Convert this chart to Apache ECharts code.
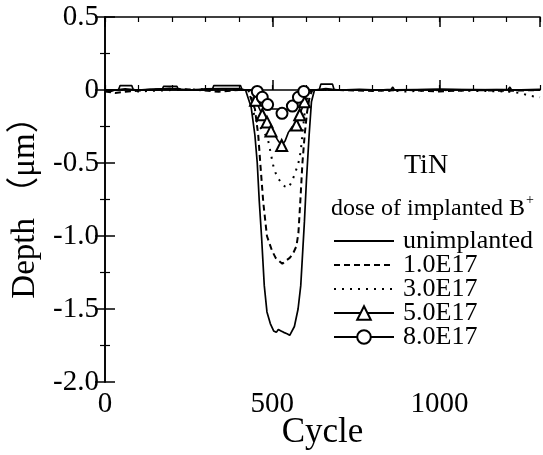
<!DOCTYPE html>
<html><head><meta charset="utf-8">
<script src="https://cdn.jsdelivr.net/npm/echarts@6/dist/echarts.min.js"></script>
<style>html,body{margin:0;padding:0;background:#fff}#c{width:543px;height:455px}</style>
</head><body><div id="c"></div>
<script>
// ---- data ----
const seriesNames = ['unimplanted', '1.0E17', '3.0E17', '5.0E17', '8.0E17'];
const xLabelValues = [0, 500, 1000];
const yLabelValues = [0.5, 0, -0.5, -1.0, -1.5, -2.0];

// [cycle, depth(um)]
const unimplanted = [[0,0.0],[15,-0.012],[30,0.0],[60,0.008],[100,0.0],[140,0.006],[200,0.01],[260,0.0],[300,0.008],[350,0.01],[400,0.01],[420,0.0],[424,-0.01],[437,-0.12],[448,-0.31],[455,-0.5],[461,-0.76],[468,-1.01],[476,-1.34],[484,-1.52],[494,-1.6],[504,-1.65],[512,-1.66],[518,-1.64],[526,-1.65],[534,-1.66],[544,-1.67],[552,-1.68],[556,-1.69],[566,-1.62],[577,-1.5],[585,-1.34],[591,-1.1],[596,-0.9],[602,-0.62],[610,-0.31],[617,-0.08],[626,0.0],[660,0.01],[700,0.0],[760,0.005],[820,0.0],[855,0.004],[860,0.02],[865,0.0],[900,0.0],[1000,0.005],[1100,0.0],[1205,0.004],[1210,0.02],[1215,0.0],[1300,0.005]];
const dose10 = [[0,-0.01],[30,-0.02],[60,-0.012],[120,0.0],[200,0.01],[280,0.0],[340,-0.012],[400,0.0],[428,0.0],[435,-0.05],[448,-0.13],[458,-0.31],[465,-0.53],[473,-0.77],[484,-1.0],[499,-1.1],[510,-1.15],[520,-1.17],[530,-1.19],[540,-1.17],[552,-1.15],[562,-1.12],[572,-1.07],[578,-0.98],[584,-0.75],[590,-0.5],[597,-0.3],[604,-0.15],[612,-0.04],[620,0.0],[700,0.0],[800,-0.006],[900,0.0],[1000,-0.01],[1100,0.0],[1200,-0.006],[1300,0.0]];
const dose30 = [[0,0.0],[50,0.0],[100,-0.01],[200,0.0],[300,0.005],[400,0.0],[432,0.0],[438,-0.05],[443,-0.15],[452,-0.21],[465,-0.26],[478,-0.3],[488,-0.35],[495,-0.43],[503,-0.52],[513,-0.59],[525,-0.63],[537,-0.66],[548,-0.67],[558,-0.63],[568,-0.57],[578,-0.5],[585,-0.42],[590,-0.3],[596,-0.17],[602,-0.08],[608,-0.03],[615,0.0],[700,0.0],[800,0.0],[900,-0.01],[1000,0.0],[1100,-0.006],[1200,-0.01],[1240,-0.02],[1270,-0.04],[1300,-0.05]];
// third value: 1 = marker drawn at this point
const dose50 = [[0,0,0],[170,0,0],[175,0.025,0],[215,0.025,0],[220,0,0],[320,0,0],[325,0.03,0],[405,0.03,0],[410,0,0],[438,0,0],[450,-0.07,1],[470,-0.17,1],[484,-0.22,1],[496,-0.28,1],[505,-0.3,0],[518,-0.35,0],[528,-0.38,1],[538,-0.35,0],[548,-0.29,0],[560,-0.25,0],[572,-0.24,1],[582,-0.17,1],[596,-0.08,1],[606,0,0],[800,0,0],[1000,0.005,0],[1300,0,0]];
const dose80 = [[0,0,0],[40,0,0],[45,0.03,0],[80,0.03,0],[85,0,0],[300,0,0],[445,0,0],[455,-0.01,1],[470,-0.05,1],[486,-0.1,1],[500,-0.13,0],[515,-0.13,0],[529,-0.16,1],[545,-0.13,0],[560,-0.11,1],[578,-0.05,1],[594,-0.01,1],[605,0,0],[640,0,0],[645,0.04,0],[680,0.04,0],[685,0,0],[900,0,0],[1300,0,0]];

// ---- chart ----
const FONT = "'Liberation Serif', 'Times New Roman', serif";
function markerData(arr) {
  return arr.map(p => ({ value: [p[0], p[1]], symbol: p[2] ? undefined : 'none' }));
}
const chart = echarts.init(document.getElementById('c'), null, { renderer: 'canvas' });
const axisLine = { show: true, lineStyle: { color: '#000', width: 1.6 } };
const majorX = (pos, labels) => ({
  type: 'value', position: pos, min: 0, max: 1300, interval: 500,
  axisLine, splitLine: { show: false },
  axisTick: { show: true, inside: true, length: 10, lineStyle: { color: '#000', width: 1.5 } },
  axisLabel: labels ? {
    show: true, margin: 8, fontFamily: FONT, fontSize: 29, color: '#000', showMaxLabel: false,
    formatter: v => xLabelValues.indexOf(v) >= 0 ? String(v) : ''
  } : { show: false },
  name: labels ? 'Cycle' : '', nameLocation: 'middle', nameGap: 33, nameMoveOverlap: false,
  nameTextStyle: { fontFamily: FONT, fontSize: 35, color: '#000' }
});
const minorX = (pos) => ({
  type: 'value', position: pos, min: 0, max: 1300, interval: 100,
  axisLine: { show: false }, splitLine: { show: false }, axisLabel: { show: false },
  axisTick: { show: true, inside: true, length: 5, lineStyle: { color: '#000', width: 1.2 } }
});
const yAx = (pos, labels) => ({
  type: 'value', position: pos, min: -2, max: 0.5, interval: 0.5,
  axisLine, splitLine: { show: false },
  axisTick: { show: true, inside: true, length: 10, lineStyle: { color: '#000', width: 1.5 } },
  minorTick: { show: true, splitNumber: 2, length: 5, lineStyle: { color: '#000', width: 1.2 } },
  axisLabel: labels ? {
    show: true, margin: 6, fontFamily: FONT, fontSize: 29, color: '#000', padding: [8, 0, 0, 0],
    formatter: v => { const k = yLabelValues.findIndex(t => Math.abs(t - v) < 1e-9); return k < 0 ? '' : (v === 0 ? '0' : v.toFixed(1)); }
  } : { show: false },
  name: labels ? 'Depth （μm）' : '', nameLocation: 'middle', nameGap: 62, nameRotate: 90,
  nameTextStyle: { fontFamily: FONT + ", 'Noto Sans CJK JP'", fontSize: 33, color: '#000' }
});

const lineBase = { type: 'line', xAxisIndex: 0, yAxisIndex: 0, animation: false, smooth: false, z: 3 };
chart.setOption({
  animation: false,
  backgroundColor: '#fff',
  grid: { left: 105, right: 3, top: 17, bottom: 73, containLabel: false, outerBoundsMode: 'none' },
  xAxis: [majorX('bottom', true), minorX('bottom'), majorX('top', false), minorX('top')],
  yAxis: [yAx('left', true), yAx('right', false)],
  legend: {
    orient: 'vertical', left: 333, top: 228, padding: 0, itemWidth: 60, itemHeight: 17, itemGap: -2,
    textStyle: { fontFamily: FONT, fontSize: 26, color: '#000', padding: [0, 0, 0, 4] },
    data: seriesNames.map((n, i) => i < 3 ? { name: n, itemStyle: { opacity: 0 } } : { name: n })
  },
  graphic: [
    { type: 'text', left: 404, top: 152, style: { text: 'TiN', font: "28px " + FONT, fill: '#000' } },
    { type: 'text', left: 331, top: 193, style: {
        text: '{a|dose of implanted B}{s|+}', fill: '#000',
        rich: { a: { fontFamily: FONT, fontSize: 24, lineHeight: 28, verticalAlign: 'bottom' },
                 s: { fontFamily: FONT, fontSize: 14, lineHeight: 28, verticalAlign: 'top', padding: [0,0,12,1] } } } }
  ],
  series: [
    Object.assign({}, lineBase, { name: seriesNames[0], data: unimplanted, symbol: 'none',
      lineStyle: { color: '#000', width: 1.7, type: 'solid' }, itemStyle: { color: '#000' } }),
    Object.assign({}, lineBase, { name: seriesNames[1], data: dose10, symbol: 'none',
      lineStyle: { color: '#000', width: 2, type: [6, 4] }, itemStyle: { color: '#000' } }),
    Object.assign({}, lineBase, { name: seriesNames[2], data: dose30, symbol: 'none',
      lineStyle: { color: '#000', width: 2, type: [2, 6] }, itemStyle: { color: '#000' } }),
    Object.assign({}, lineBase, { name: seriesNames[3], data: markerData(dose50), symbol: 'emptyTriangle', symbolSize: 11,
      lineStyle: { color: '#000', width: 1.6 }, itemStyle: { color: '#000', borderWidth: 1 } }),
    Object.assign({}, lineBase, { name: seriesNames[4], data: markerData(dose80), symbol: 'emptyCircle', symbolSize: 11,
      lineStyle: { color: '#000', width: 1.6 }, itemStyle: { color: '#000', borderWidth: 1 } })
  ]
});
</script></body></html>
